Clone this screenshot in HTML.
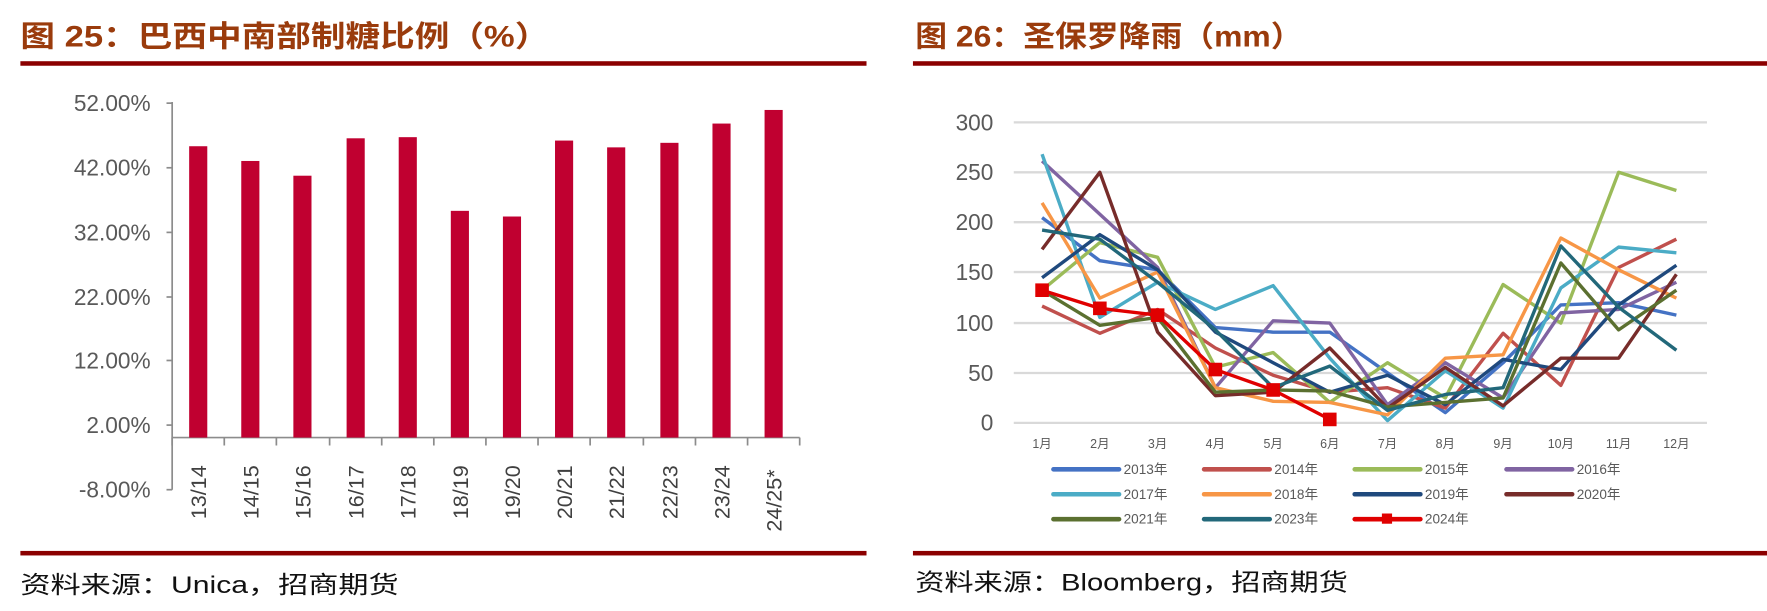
<!DOCTYPE html>
<html><head><meta charset="utf-8"><style>
html,body{margin:0;padding:0;background:#fff;width:1767px;height:611px;overflow:hidden}
svg{display:block}
text{font-family:"Liberation Sans","Noto Sans CJK SC",sans-serif}
</style></head><body>
<svg width="1767" height="611" viewBox="0 0 1560 539" preserveAspectRatio="none" xmlns="http://www.w3.org/2000/svg">
<!-- Left panel -->
<text x="18" y="41" font-size="26" font-weight="bold" fill="#9a3b0c" textLength="467" lengthAdjust="spacingAndGlyphs">图 25：巴西中南部制糖比例（%）</text>
<rect x="18" y="54" width="747" height="4" fill="#8b0000"/>
<rect x="18" y="486" width="747" height="4" fill="#8b0000"/>
<text x="18" y="523" font-size="21" fill="#111" textLength="334" lengthAdjust="spacingAndGlyphs">资料来源：Unica，招商期货</text>
<g font-size="20" fill="#595959" text-anchor="end">
<text x="133" y="98">52.00%</text><text x="133" y="155">42.00%</text><text x="133" y="212">32.00%</text>
<text x="133" y="269">22.00%</text><text x="133" y="325">12.00%</text><text x="133" y="382">2.00%</text><text x="133" y="439">-8.00%</text>
</g>
<g stroke="#8c8c8c" stroke-width="1.5">
<line x1="152" y1="90" x2="152" y2="432"/>
<line x1="147" y1="91" x2="152" y2="91"/><line x1="147" y1="148" x2="152" y2="148"/><line x1="147" y1="205" x2="152" y2="205"/>
<line x1="147" y1="262" x2="152" y2="262"/><line x1="147" y1="318" x2="152" y2="318"/><line x1="147" y1="375" x2="152" y2="375"/><line x1="147" y1="432" x2="152" y2="432"/>
<line x1="152" y1="386" x2="706" y2="386"/>
<line x1="152" y1="386" x2="152" y2="393"/><line x1="198" y1="386" x2="198" y2="393"/><line x1="244" y1="386" x2="244" y2="393"/><line x1="291" y1="386" x2="291" y2="393"/><line x1="337" y1="386" x2="337" y2="393"/><line x1="383" y1="386" x2="383" y2="393"/><line x1="429" y1="386" x2="429" y2="393"/><line x1="475" y1="386" x2="475" y2="393"/><line x1="521" y1="386" x2="521" y2="393"/><line x1="568" y1="386" x2="568" y2="393"/><line x1="614" y1="386" x2="614" y2="393"/><line x1="660" y1="386" x2="660" y2="393"/><line x1="706" y1="386" x2="706" y2="393"/>
</g>
<g fill="#c00030">
<rect x="167" y="129" width="16" height="257"/><rect x="213" y="142" width="16" height="244"/><rect x="259" y="155" width="16" height="231"/>
<rect x="306" y="122" width="16" height="264"/><rect x="352" y="121" width="16" height="265"/><rect x="398" y="186" width="16" height="200"/>
<rect x="444" y="191" width="16" height="195"/><rect x="490" y="124" width="16" height="262"/><rect x="536" y="130" width="16" height="256"/>
<rect x="583" y="126" width="16" height="260"/><rect x="629" y="109" width="16" height="277"/><rect x="675" y="97" width="16" height="289"/>
</g>
<g font-size="19" fill="#404040">
<text transform="translate(182,458) rotate(-90)">13/14</text><text transform="translate(228,458) rotate(-90)">14/15</text><text transform="translate(274,458) rotate(-90)">15/16</text>
<text transform="translate(321,458) rotate(-90)">16/17</text><text transform="translate(367,458) rotate(-90)">17/18</text><text transform="translate(413,458) rotate(-90)">18/19</text>
<text transform="translate(459,458) rotate(-90)">19/20</text><text transform="translate(505,458) rotate(-90)">20/21</text><text transform="translate(551,458) rotate(-90)">21/22</text>
<text transform="translate(598,458) rotate(-90)">22/23</text><text transform="translate(644,458) rotate(-90)">23/24</text><text transform="translate(690,469) rotate(-90)">24/25*</text>
</g>
<!-- Right panel -->
<text x="808" y="41" font-size="26" font-weight="bold" fill="#9a3b0c" textLength="342" lengthAdjust="spacingAndGlyphs">图 26：圣保罗降雨（mm）</text>
<rect x="806" y="54" width="754" height="4" fill="#8b0000"/>
<rect x="806" y="486" width="754" height="4" fill="#8b0000"/>
<text x="808" y="521" font-size="21" fill="#111" textLength="382" lengthAdjust="spacingAndGlyphs">资料来源：Bloomberg，招商期货</text>
<g stroke="#d9d9d9" stroke-width="2">
<line x1="895" y1="108" x2="1507" y2="108"/><line x1="895" y1="152" x2="1507" y2="152"/><line x1="895" y1="196" x2="1507" y2="196"/>
<line x1="895" y1="240" x2="1507" y2="240"/><line x1="895" y1="285" x2="1507" y2="285"/><line x1="895" y1="329" x2="1507" y2="329"/><line x1="895" y1="373" x2="1507" y2="373"/>
</g>
<g font-size="20" fill="#595959" text-anchor="end">
<text x="877" y="115">300</text><text x="877" y="159">250</text><text x="877" y="203">200</text><text x="877" y="247">150</text>
<text x="877" y="292">100</text><text x="877" y="336">50</text><text x="877" y="380">0</text>
</g>
<g font-size="11" fill="#595959" text-anchor="middle">
<text x="920" y="395">1月</text><text x="971" y="395">2月</text><text x="1022" y="395">3月</text><text x="1073" y="395">4月</text>
<text x="1124" y="395">5月</text><text x="1174" y="395">6月</text><text x="1225" y="395">7月</text><text x="1276" y="395">8月</text>
<text x="1327" y="395">9月</text><text x="1378" y="395">10月</text><text x="1429" y="395">11月</text><text x="1480" y="395">12月</text>
</g>
<g fill="none" stroke-width="3" stroke-linejoin="round">
<polyline stroke="#4472c4" points="920,192 971,230 1022,238 1073,289 1124,293 1174,293 1225,329 1276,364 1327,320 1378,269 1429,267 1480,278"/>
<polyline stroke="#c0504d" points="920,270 971,294 1022,273 1073,307 1124,331 1174,346 1225,342 1276,360 1327,294 1378,340 1429,236 1480,211"/>
<polyline stroke="#9bbb59" points="920,256 971,214 1022,227 1073,324 1124,311 1174,355 1225,320 1276,351 1327,251 1378,285 1429,152 1480,168"/>
<polyline stroke="#8064a2" points="920,142 971,189 1022,236 1073,342 1124,283 1174,285 1225,357 1276,320 1327,351 1378,276 1429,273 1480,249"/>
<polyline stroke="#4bacc6" points="920,136 971,280 1022,249 1073,273 1124,252 1174,316 1225,371 1276,327 1327,360 1378,254 1429,218 1480,223"/>
<polyline stroke="#f79646" points="920,179 971,263 1022,240 1073,342 1124,354 1174,355 1225,366 1276,316 1327,313 1378,210 1429,238 1480,263"/>
<polyline stroke="#1f497d" points="920,245 971,207 1022,238 1073,293 1124,320 1174,346 1225,331 1276,357 1327,317 1378,326 1429,269 1480,234"/>
<polyline stroke="#772c2a" points="920,220 971,152 1022,293 1073,349 1124,346 1174,307 1225,360 1276,324 1327,358 1378,316 1429,316 1480,242"/>
<polyline stroke="#5b7030" points="920,256 971,287 1022,280 1073,346 1124,344 1174,345 1225,359 1276,355 1327,351 1378,232 1429,291 1480,256"/>
<polyline stroke="#22687a" points="920,203 971,211 1022,249 1073,291 1124,342 1174,323 1225,362 1276,348 1327,342 1378,217 1429,271 1480,309"/>
<polyline stroke="#e00000" points="920,256 971,272 1022,278 1073,326 1124,344 1174,370"/>
</g>
<g fill="#e00000">
<rect x="914" y="250" width="12" height="12"/><rect x="965" y="266" width="12" height="12"/><rect x="1016" y="272" width="12" height="12"/>
<rect x="1067" y="320" width="12" height="12"/><rect x="1118" y="338" width="12" height="12"/><rect x="1168" y="364" width="12" height="12"/>
</g>
<g stroke-width="4" stroke-linecap="round">
<line x1="930" y1="414" x2="988" y2="414" stroke="#4472c4"/><line x1="1063" y1="414" x2="1121" y2="414" stroke="#c0504d"/>
<line x1="1196" y1="414" x2="1254" y2="414" stroke="#9bbb59"/><line x1="1330" y1="414" x2="1388" y2="414" stroke="#8064a2"/>
<line x1="930" y1="436" x2="988" y2="436" stroke="#4bacc6"/><line x1="1063" y1="436" x2="1121" y2="436" stroke="#f79646"/>
<line x1="1196" y1="436" x2="1254" y2="436" stroke="#1f497d"/><line x1="1330" y1="436" x2="1388" y2="436" stroke="#772c2a"/>
<line x1="930" y1="458" x2="988" y2="458" stroke="#5b7030"/><line x1="1063" y1="458" x2="1121" y2="458" stroke="#22687a"/>
<line x1="1196" y1="458" x2="1254" y2="458" stroke="#e00000"/>
</g>
<rect x="1220" y="453" width="9" height="9" fill="#e00000"/>
<g font-size="12" fill="#595959">
<text x="992" y="418">2013年</text><text x="1125" y="418">2014年</text><text x="1258" y="418">2015年</text><text x="1392" y="418">2016年</text>
<text x="992" y="440">2017年</text><text x="1125" y="440">2018年</text><text x="1258" y="440">2019年</text><text x="1392" y="440">2020年</text>
<text x="992" y="462">2021年</text><text x="1125" y="462">2023年</text><text x="1258" y="462">2024年</text>
</g>
</svg>
</body></html>
